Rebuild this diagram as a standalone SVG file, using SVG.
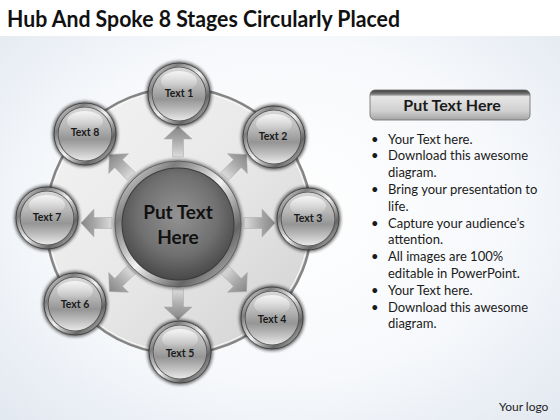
<svg xmlns="http://www.w3.org/2000/svg" xmlns:xlink="http://www.w3.org/1999/xlink" width="560" height="420" viewBox="0 0 560 420">
<style>
.title{font-family:Lato,"Open Sans","Liberation Sans",sans-serif;font-weight:700;font-size:22px;fill:#111}
.lbl{font-family:Lato,"Open Sans","Liberation Sans",sans-serif;font-weight:700;font-size:10.5px;fill:#1a1a1a;text-anchor:middle}
.hub{font-family:Lato,"Open Sans","Liberation Sans",sans-serif;font-weight:700;font-size:19px;fill:#111;text-anchor:middle}
.hdr{font-family:Lato,"Open Sans","Liberation Sans",sans-serif;font-weight:700;font-size:16px;fill:#1a1a1a;text-anchor:middle}
.bul{font-family:Lato,"Open Sans","Liberation Sans",sans-serif;font-size:13px;fill:#1a1a1a}
.logo{font-family:Lato,"Open Sans","Liberation Sans",sans-serif;font-size:12px;fill:#222}
.arrow{fill:url(#arrowGrad);stroke:#a8a8a8;stroke-width:0.5}
</style>
<defs>
<radialGradient id="bg" cx="0.5" cy="0.5" r="0.75">
<stop offset="0" stop-color="#ffffff"/>
<stop offset="0.55" stop-color="#f6f8fb"/>
<stop offset="1" stop-color="#dfe6ef"/>
</radialGradient>
<linearGradient id="disc" x1="0" y1="0" x2="1" y2="1">
<stop offset="0" stop-color="#f4f4f4"/>
<stop offset="0.5" stop-color="#e8e8e8"/>
<stop offset="1" stop-color="#d0d0d0"/>
</linearGradient>
<linearGradient id="silver" x1="0" y1="0" x2="1" y2="1">
<stop offset="0" stop-color="#ffffff"/>
<stop offset="0.25" stop-color="#7e7e7e"/>
<stop offset="0.5" stop-color="#f2f2f2"/>
<stop offset="0.75" stop-color="#666666"/>
<stop offset="1" stop-color="#d6d6d6"/>
</linearGradient>
<linearGradient id="ball" x1="0" y1="0" x2="0" y2="1">
<stop offset="0" stop-color="#d8d8d8"/>
<stop offset="0.35" stop-color="#b8b8b8"/>
<stop offset="0.6" stop-color="#959595"/>
<stop offset="0.82" stop-color="#c0c0c0"/>
<stop offset="1" stop-color="#e8e8e8"/>
</linearGradient>
<linearGradient id="gloss" x1="0" y1="0" x2="0" y2="1">
<stop offset="0" stop-color="#ffffff" stop-opacity="0.75"/>
<stop offset="1" stop-color="#ffffff" stop-opacity="0"/>
</linearGradient>
<radialGradient id="hubGrad" cx="0.5" cy="0.42" r="0.6">
<stop offset="0" stop-color="#939393"/>
<stop offset="0.6" stop-color="#707070"/>
<stop offset="1" stop-color="#464646"/>
</radialGradient>
<linearGradient id="arrowGrad" gradientUnits="userSpaceOnUse" x1="0" y1="-66" x2="0" y2="-97">
<stop offset="0" stop-color="#dcdcdc"/>
<stop offset="0.55" stop-color="#a8a8a8"/>
<stop offset="1" stop-color="#858585"/>
</linearGradient>
<linearGradient id="hdrGrad" x1="0" y1="0" x2="0" y2="1">
<stop offset="0" stop-color="#3a3a3a"/>
<stop offset="0.14" stop-color="#7a7a7a"/>
<stop offset="0.22" stop-color="#e6e6e6"/>
<stop offset="0.7" stop-color="#d0d0d0"/>
<stop offset="1" stop-color="#a4a4a4"/>
</linearGradient>
<filter id="blur" x="-30%" y="-30%" width="160%" height="160%">
<feGaussianBlur stdDeviation="1.6"/>
</filter>
<g id="sat">
<circle r="33" fill="#1e1e1e" opacity="0.6" filter="url(#blur)"/>
<circle r="31" fill="url(#silver)" stroke="#3e3e3e" stroke-width="0.9"/>
<circle r="27.3" fill="#555555"/>
<circle r="26.4" fill="url(#ball)"/>
<ellipse cx="0" cy="-13" rx="18" ry="10" fill="url(#gloss)"/>
</g>
<polygon id="arr" points="-5.5,-66 5.5,-66 5.5,-84 14,-84 0,-97 -14,-84 -5.5,-84"/>
</defs>

<rect width="560" height="420" fill="url(#bg)"/>
<rect width="560" height="36" fill="#ffffff"/>

<text class="title" x="7" y="27" textLength="393" lengthAdjust="spacingAndGlyphs">Hub And Spoke 8 Stages Circularly Placed</text>

<g id="ring">
<circle cx="179" cy="221" r="133" fill="url(#disc)" stroke="#858585" stroke-width="2.5"/>
<circle cx="179" cy="221" r="130.5" fill="none" stroke="#fbfbfb" stroke-width="1"/>
</g>

<g id="connectors">
<use xlink:href="#arr" class="arrow" transform="translate(178,223) rotate(0)"/>
<use xlink:href="#arr" class="arrow" transform="translate(178,223) rotate(45)"/>
<use xlink:href="#arr" class="arrow" transform="translate(178,223) rotate(90)"/>
<use xlink:href="#arr" class="arrow" transform="translate(178,223) rotate(135)"/>
<use xlink:href="#arr" class="arrow" transform="translate(178,223) rotate(180)"/>
<use xlink:href="#arr" class="arrow" transform="translate(178,223) rotate(225)"/>
<use xlink:href="#arr" class="arrow" transform="translate(178,223) rotate(270)"/>
<use xlink:href="#arr" class="arrow" transform="translate(178,223) rotate(315)"/>
</g>

<g id="hub">
<circle cx="178" cy="224" r="65" fill="#2a2a2a" opacity="0.5" filter="url(#blur)"/>
<circle cx="178" cy="224" r="63" fill="url(#silver)" stroke="#555" stroke-width="0.8"/>
<circle cx="178" cy="224" r="56.5" fill="#3c3c3c"/>
<circle cx="178" cy="224" r="55.5" fill="url(#hubGrad)"/>
<text class="hub" x="178" y="219">Put Text</text>
<text class="hub" x="178" y="244">Here</text>
</g>

<g id="node1"><use xlink:href="#sat" transform="translate(179,94)"/><text class="lbl" x="179" y="97">Text 1</text></g>
<g id="node2"><use xlink:href="#sat" transform="translate(274,137)"/><text class="lbl" x="273" y="140">Text 2</text></g>
<g id="node3"><use xlink:href="#sat" transform="translate(308,219)"/><text class="lbl" x="308" y="222">Text 3</text></g>
<g id="node4"><use xlink:href="#sat" transform="translate(272,318)"/><text class="lbl" x="272" y="323">Text 4</text></g>
<g id="node5"><use xlink:href="#sat" transform="translate(180,352)"/><text class="lbl" x="180" y="357">Text 5</text></g>
<g id="node6"><use xlink:href="#sat" transform="translate(75,304)"/><text class="lbl" x="75" y="308">Text 6</text></g>
<g id="node7"><use xlink:href="#sat" transform="translate(47,218)"/><text class="lbl" x="47" y="221">Text 7</text></g>
<g id="node8"><use xlink:href="#sat" transform="translate(85,134)"/><text class="lbl" x="85" y="136">Text 8</text></g>

<g id="header">
<rect x="370" y="90" width="160" height="30" rx="5" fill="url(#hdrGrad)" stroke="#6a6a6a" stroke-width="0.8"/>
<text class="hdr" x="452" y="111">Put Text Here</text>
</g>

<g id="bullets">
<text class="bul" x="371" y="143.5">•</text><text class="bul" x="388" y="143.5">Your Text here.</text>
<text class="bul" x="371" y="160.3">•</text><text class="bul" x="388" y="160.3">Download this awesome</text>
<text class="bul" x="388" y="177.1">diagram.</text>
<text class="bul" x="371" y="193.9">•</text><text class="bul" x="388" y="193.9">Bring your presentation to</text>
<text class="bul" x="388" y="210.7">life.</text>
<text class="bul" x="371" y="227.5">•</text><text class="bul" x="388" y="227.5">Capture your audience’s</text>
<text class="bul" x="388" y="244.3">attention.</text>
<text class="bul" x="371" y="261.1">•</text><text class="bul" x="388" y="261.1">All images are 100%</text>
<text class="bul" x="388" y="277.9">editable in PowerPoint.</text>
<text class="bul" x="371" y="294.7">•</text><text class="bul" x="388" y="294.7">Your Text here.</text>
<text class="bul" x="371" y="311.5">•</text><text class="bul" x="388" y="311.5">Download this awesome</text>
<text class="bul" x="388" y="328.3">diagram.</text>
</g>

<text class="logo" x="499" y="411">Your logo</text>
</svg>
